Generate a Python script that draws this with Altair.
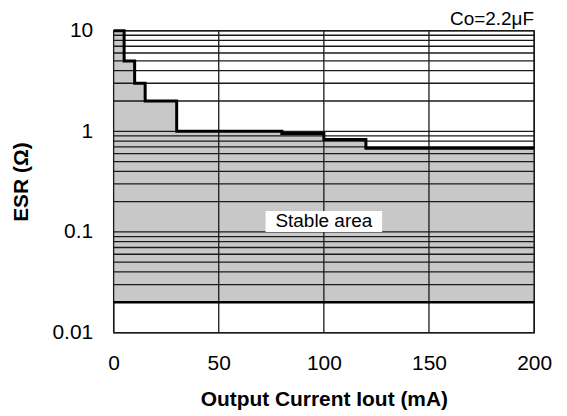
import altair as alt
import pandas as pd

# Upper ESR boundary of the stable area (step-after)
iout_ma = [0, 5, 10, 15, 30, 80, 100, 120, 200]
esr_upper = [10, 5, 3, 2, 1, 0.95, 0.83, 0.68, 0.68]
# Lower ESR boundary
esr_lower = [0.02]

# Grid / tick values
x_ticks = [0, 50, 100, 150, 200]
y_ticks = [0.01, 0.1, 1, 10]
y_grid = [0.01, 0.02, 0.03, 0.04, 0.05, 0.06, 0.07, 0.08, 0.09,
          0.1, 0.2, 0.3, 0.4, 0.5, 0.6, 0.7, 0.8, 0.9,
          1, 2, 3, 4, 5, 6, 7, 8, 9, 10]

# Annotations
label_text = ["Stable area"]
label_x = [100]
label_esr = [0.127]
note_text = ["Co=2.2μF"]
note_x = [200]
note_esr = [10]

FONT = "Liberation Sans"

df_step = pd.DataFrame({"I": iout_ma, "ESR": esr_upper, "lo": esr_lower * len(iout_ma)})
df_hgrid = pd.DataFrame({"v": y_grid})
df_vgrid = pd.DataFrame({"v": x_ticks})
df_low = pd.DataFrame({"v": esr_lower})
df_lab = pd.DataFrame({"t": label_text, "x": label_x, "y": label_esr})
df_note = pd.DataFrame({"t": note_text, "x": note_x, "y": note_esr})

xs = alt.Scale(domain=[0, 200], nice=False, zero=False)
ys = alt.Scale(type="log", domain=[0.01, 10], nice=False)

x_axis = alt.Axis(values=x_ticks, format="d", grid=False, ticks=False, tickSize=0,
                  domain=False, labelPadding=20, labelFontSize=21, labelFont=FONT,
                  labelColor="black", labelFlush=False, labelOverlap=False,
                  title="Output Current Iout (mA)",
                  titleFontSize=21, titleFont=FONT, titleFontWeight="bold",
                  titleColor="black", titleY=67, titleBaseline="middle")
y_axis = alt.Axis(values=y_ticks, format="~g", grid=False, ticks=False, tickSize=0,
                  domain=False, labelPadding=21, labelFontSize=21, labelFont=FONT,
                  labelColor="black", labelBaseline="middle", labelFlush=False,
                  labelOverlap=False, title="ESR (Ω)",
                  titleFontSize=21, titleFont=FONT, titleFontWeight="bold",
                  titleColor="black", titleX=-92, titleY=151.5,
                  titleBaseline="middle", titleAngle=270)

area = alt.Chart(df_step).mark_area(interpolate="step-after", color="#c8c8c8").encode(
    x=alt.X("I:Q", scale=xs, axis=x_axis),
    y=alt.Y("ESR:Q", scale=ys, axis=y_axis),
    y2="lo:Q",
)

hgrid = alt.Chart(df_hgrid).mark_rule(color="#1a1a1a", strokeWidth=1.3).encode(
    y=alt.Y("v:Q", scale=ys, axis=y_axis)
)
vgrid = alt.Chart(df_vgrid).mark_rule(color="#1a1a1a", strokeWidth=1.3).encode(
    x=alt.X("v:Q", scale=xs, axis=x_axis)
)
low = alt.Chart(df_low).mark_rule(color="black", strokeWidth=2.6).encode(
    y=alt.Y("v:Q", scale=ys, axis=y_axis)
)
line = alt.Chart(df_step).mark_line(interpolate="step-after", color="black", strokeWidth=3).encode(
    x=alt.X("I:Q", scale=xs, axis=x_axis),
    y=alt.Y("ESR:Q", scale=ys, axis=y_axis),
)
box = alt.Chart(df_lab).mark_point(
    shape="M-1,-0.18L1,-0.18L1,0.18L-1,0.18Z", size=117 * 117, filled=True,
    color="white", opacity=1, strokeWidth=0
).encode(
    x=alt.X("x:Q", scale=xs, axis=x_axis),
    y=alt.Y("y:Q", scale=ys, axis=y_axis),
)
text = alt.Chart(df_lab).mark_text(
    font=FONT, fontSize=19, color="black", align="center", baseline="middle"
).encode(
    x=alt.X("x:Q", scale=xs, axis=x_axis),
    y=alt.Y("y:Q", scale=ys, axis=y_axis),
    text="t:N",
)
note = alt.Chart(df_note).mark_text(
    font=FONT, fontSize=19, color="black", align="right", baseline="alphabetic", dy=-6
).encode(
    x=alt.X("x:Q", scale=xs, axis=x_axis),
    y=alt.Y("y:Q", scale=ys, axis=y_axis),
    text="t:N",
)

chart = alt.layer(area, hgrid, vgrid, low, line, box, text, note).properties(
    width=422, height=303,
    padding={"left": 106, "top": 22, "right": 25, "bottom": 80},
    autosize=alt.AutoSizeParams(type="none"),
).configure_view(stroke="black", strokeWidth=1.3)

chart.save("out.html", embed_options={"renderer": "svg", "actions": False})
